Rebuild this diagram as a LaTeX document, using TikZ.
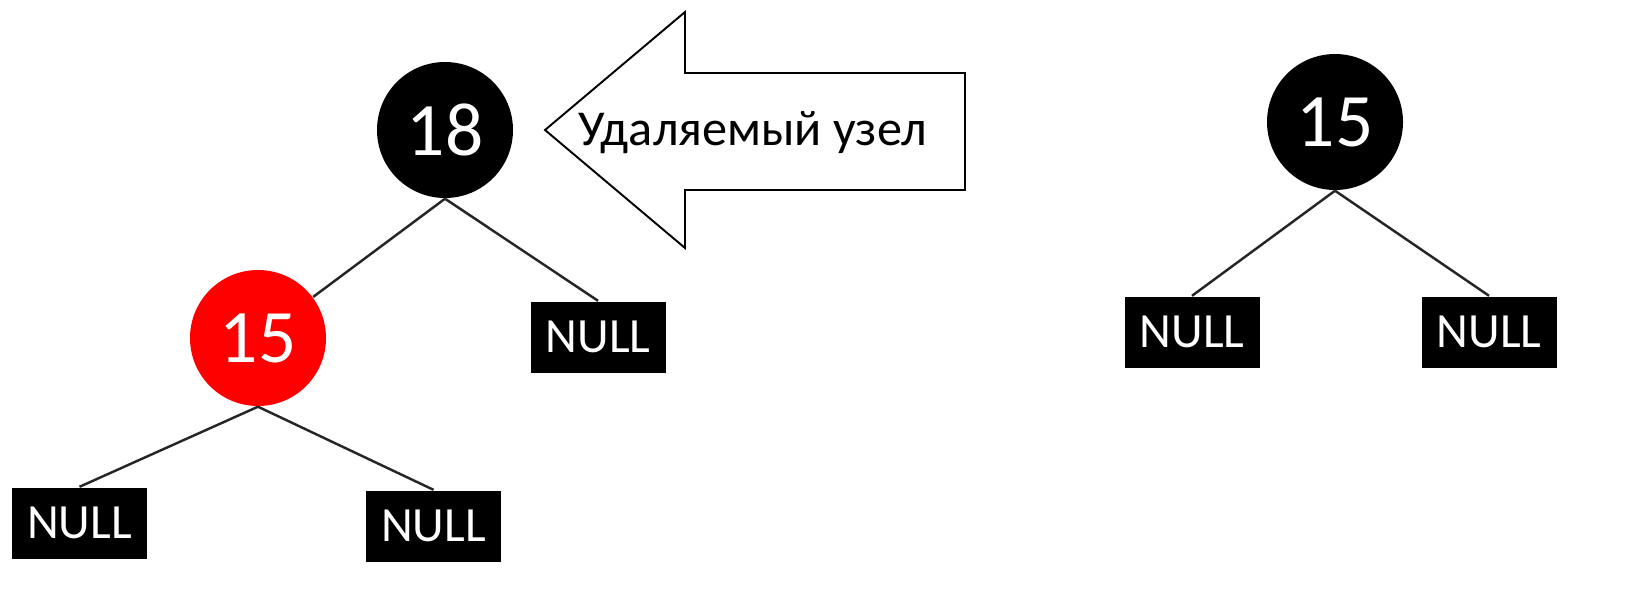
\documentclass[tikz,border=0pt]{standalone}
\usepackage{fontspec}
\setmainfont{Carlito}
\usepackage{tikz}
\usetikzlibrary{positioning}

\begin{document}
\begin{tikzpicture}[every node/.style={align=center},
							blacknode/.style={circle, fill=black, text=white, inner sep=0pt, minimum size=1.36cm, font=\fontsize{21.5}{24}\selectfont},
							rednode/.style={blacknode, fill=red},
							nullbox/.style={rectangle, fill=black, text=white, inner sep=0pt, minimum width=1.35cm, minimum height=0.71cm, font=\fontsize{14}{16}\selectfont},
							edge/.style={line width=0.7pt, black!85}]

			\useasboundingbox (0,0) rectangle (16.52,-6.09);

			% left tree
			\node [blacknode] (P18) at (4.45,-1.30) {18};
			\node [rednode] (R15) at (2.58,-3.38) {15};
			\node [nullbox] (N1) at (5.98,-3.37) {NULL};
			\node [nullbox] (N2) at (0.795,-5.23) {NULL};
			\node [nullbox] (N3) at (4.335,-5.26) {NULL};

			\draw[edge] (P18.south) -- (R15);
			\draw[edge] (P18.south) -- (N1.north);
			\draw[edge] (R15.south) -- (N2.north);
			\draw[edge] (R15.south) -- (N3.north);

			% pointer
			\coordinate (tip) at (5.45,-1.30);
			\draw[line width=0.55pt] (tip) -- (6.85,-0.12) -- (6.85,-0.73) -- (9.65,-0.73)
				-- (9.65,-1.90) -- (6.85,-1.90) -- (6.85,-2.48) -- cycle;
			\node (L) at (7.53,-1.33) {\fontsize{14.3}{16}\selectfont Удаляемый узел};

			% right tree
			\node [blacknode] (B15) at (13.35,-1.22) {15};
			\node [nullbox] (N4) at (11.92,-3.32) {NULL};
			\node [nullbox] (N5) at (14.89,-3.32) {NULL};

			\draw[edge] (B15.south) -- (N4.north);
			\draw[edge] (B15.south) -- (N5.north);

\end{tikzpicture}
\end{document}
